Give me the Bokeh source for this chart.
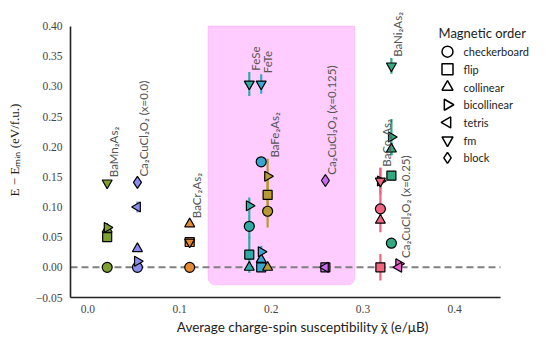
import math
from bokeh.plotting import figure
from bokeh.models import (ColumnDataSource, BoxAnnotation, FixedTicker, LabelSet,
                          Label, Range1d)
from bokeh.core.properties import value
from bokeh.embed import file_html
from bokeh.resources import INLINE

nan = float("nan")

# ---------------- data ----------------
compounds = ["BaMn₂As₂", "Ca₂CuCl₂O₂ (x=0.0)", "BaCr₂As₂", "FeSe", "FeTe",
             "BaFe₂As₂", "Ca₂CuCl₂O₂ (x=0.125)", "BaCo₂As₂", "BaNi₂As₂",
             "Ca₂CuCl₂O₂ (x=0.25)"]
chi_bar = [0.021, 0.054, 0.111, 0.176, 0.189, 0.196, 0.259, 0.319, 0.331, 0.339]
colors = ["#7fa030", "#8a8cf0", "#e38a35", "#30aaa6", "#38a6d0", "#b79a30",
          "#c66cec", "#f2657f", "#30aa80", "#ee5cce"]

orders = ["checkerboard", "flip", "collinear", "bicollinear", "tetris", "fm", "block"]

e_checkerboard = [0.000, 0.000, 0.000, 0.068, 0.175, 0.093, nan, 0.097, 0.040, nan]
e_flip         = [0.050, nan,   0.042, 0.021, 0.000, 0.120, 0.000, 0.000, 0.152, nan]
e_collinear    = [0.063, 0.031, 0.072, 0.000, 0.013, 0.000, nan, 0.078, 0.196, nan]
e_bicollinear  = [0.066, 0.010, nan,   0.102, 0.026, 0.151, nan, 0.143, 0.216, 0.006]
e_tetris       = [nan,   0.100, nan,   nan,   nan,   nan,   0.000, nan, nan, 0.000]
e_fm           = [0.140, nan,   0.042, 0.304, 0.304, nan,   nan, 0.143, 0.334, nan]
e_block        = [nan,   0.141, nan,   nan,   nan,   nan,   0.144, nan, nan, nan]

err_checkerboard = [0, 0, 0, 0.020, 0, 0.027, 0, 0.025, 0, 0]
err_flip         = [0, 0, 0, 0.030, 0, 0.029, 0, 0.022, 0, 0]
err_collinear    = [0, 0, 0, 0, 0.015, 0, 0, 0.020, 0.010, 0]
err_bicollinear  = [0, 0, 0, 0.014, 0.010, 0.029, 0, 0.022, 0.030, 0]
err_tetris       = [0, 0.009, 0, 0, 0, 0, 0, 0, 0, 0]
err_fm           = [0, 0, 0, 0.020, 0.016, 0, 0, 0.022, 0.013, 0]
err_block        = [0, 0, 0, 0, 0, 0, 0, 0, 0, 0]

x_ticks = [0.0, 0.1, 0.2, 0.3, 0.4]
x_tick_labels = ["0.0", "0.1", "0.2", "0.3", "0.4"]
y_ticks = [-0.05, 0.0, 0.05, 0.10, 0.15, 0.20, 0.25, 0.30, 0.35, 0.40]
y_tick_labels = ["−0.05", "0.00", "0.05", "0.10", "0.15", "0.20", "0.25", "0.30", "0.35", "0.40"]

x_lo, x_hi = -0.019, 0.45
y_lo, y_hi = -0.05, 0.40
region_left, region_right, region_bottom = 0.131, 0.291, -0.029

# ---------------- layout / styling ----------------
W, H = 534, 337
B_LEFT, B_RIGHT, B_TOP, B_BOTTOM = 70, 0, 2, 35
AX_RIGHT_PX, AX_TOP_PX = 500, 26          # where the drawn axes end
FW, FH = W - B_LEFT - B_RIGHT, H - B_TOP - B_BOTTOM
x_scale = (AX_RIGHT_PX - B_LEFT) / (x_hi - x_lo)
y_scale = (H - B_BOTTOM - AX_TOP_PX) / (y_hi - y_lo)
x_end = x_hi + (W - B_RIGHT - AX_RIGHT_PX) / x_scale
y_end = y_hi + (AX_TOP_PX - B_TOP) / y_scale

energies = [e_checkerboard, e_flip, e_collinear, e_bicollinear, e_tetris, e_fm, e_block]
errors = [err_checkerboard, err_flip, err_collinear, err_bicollinear, err_tetris, err_fm, err_block]
marker_specs = [("circle", 0.0), ("square", 0.0), ("triangle", 0.0),
                ("triangle", -math.pi / 2), ("triangle", math.pi / 2),
                ("inverted_triangle", 0.0), ("diamond", 0.0)]
marker_sizes = [10, 9, 10, 10, 10, 10, 12]

p = figure(width=W, height=H, output_backend="svg", toolbar_location=None,
           x_range=Range1d(x_lo, x_end), y_range=Range1d(y_lo, y_end),
           min_border_left=B_LEFT, min_border_right=B_RIGHT,
           min_border_top=B_TOP, min_border_bottom=B_BOTTOM)
p.extra_x_ranges = {"px": Range1d(0, FW)}
p.extra_y_ranges = {"py": Range1d(0, FH)}
p.outline_line_color = None
p.xgrid.visible = False
p.ygrid.visible = False
p.background_fill_color = "white"

# highlighted region
box = BoxAnnotation(left=region_left, right=region_right, bottom=region_bottom, top=y_hi,
                    fill_color="#ffccff", fill_alpha=1.0, line_color="#ff80ff",
                    line_width=1, border_radius=(0, 0, 7, 7), level="underlay")
p.add_layout(box)

# zero reference line
p.line(x=[x_lo, x_hi], y=[0.0, 0.0], line_color="#808080", line_width=2, line_dash="7 4")

# error bars
sx, sy0, sy1, sc = [], [], [], []
for ev, erv in zip(energies, errors):
    for i, (e, er) in enumerate(zip(ev, erv)):
        if not math.isnan(e) and er > 0:
            sx.append(chi_bar[i]); sy0.append(e - er); sy1.append(e + er); sc.append(colors[i])
p.segment(x0="x", y0="y0", x1="x", y1="y1", color="c", line_width=2.2,
          source=ColumnDataSource(dict(x=sx, y0=sy0, y1=sy1, c=sc)))

# markers
for ev, (m, ang), sz in zip(energies, marker_specs, marker_sizes):
    xs, ys, cs = [], [], []
    for i, e in enumerate(ev):
        if not math.isnan(e):
            xs.append(chi_bar[i]); ys.append(e); cs.append(colors[i])
    p.scatter(x="x", y="y", source=ColumnDataSource(dict(x=xs, y=ys, c=cs)),
              marker=m, angle=ang, size=sz, fill_color="c", line_color="black",
              line_width=1.2)

# compound labels (placed above the highest marker / bar of each compound)
label_y = []
for i in range(len(compounds)):
    top = -1.0
    for ev, erv in zip(energies, errors):
        e = ev[i]
        if not math.isnan(e):
            top = max(top, e + 0.0095, e + erv[i] + 0.002)
    label_y.append(top)
labels = LabelSet(x="x", y="y", text="t", angle=math.pi / 2, text_align="left",
                  text_baseline="top", text_font=value("Lato"),
                  text_font_size=value("11.5px"), text_color="#555555",
                  source=ColumnDataSource(dict(x=chi_bar, y=label_y, t=compounds)))
p.add_layout(labels)

# legend, drawn in frame pixel units (open markers + names)
LEG_MX, LEG_TX, LEG_TITLE_X = 377, 393, 368      # px from frame left
LEG_ROW0, LEG_DY, LEG_TITLE_Y = 50, 18, 31        # px from frame top
for k, (m, ang) in enumerate(marker_specs):
    p.scatter(x=[LEG_MX], y=[FH - LEG_ROW0 - k * LEG_DY], marker=m, angle=ang,
              size=11, fill_color="white", line_color="black", line_width=1.5,
              x_range_name="px", y_range_name="py")
leg_src = ColumnDataSource(dict(x=[LEG_TX] * len(orders),
                                y=[FH - LEG_ROW0 - k * LEG_DY for k in range(len(orders))],
                                t=orders))
p.add_layout(LabelSet(x="x", y="y", text="t", source=leg_src, x_range_name="px",
                      y_range_name="py", text_align="left", text_baseline="middle",
                      text_font=value("Lato"), text_font_size=value("11px"),
                      text_color="#222222"))
p.add_layout(Label(x=LEG_TITLE_X, y=FH - LEG_TITLE_Y, text="Magnetic order",
                   x_range_name="px", y_range_name="py", text_align="left",
                   text_baseline="middle", text_font="Lato", text_font_size="13px",
                   text_color="#222222"))

# axes
p.xaxis.ticker = FixedTicker(ticks=x_ticks)
p.xaxis.major_label_overrides = dict(zip(x_ticks, x_tick_labels))
p.xaxis.bounds = (x_lo, x_hi)
p.yaxis.ticker = FixedTicker(ticks=y_ticks)
p.yaxis.major_label_overrides = dict(zip(y_ticks, y_tick_labels))
p.yaxis.bounds = (y_lo, y_hi)
for ax in (p.xaxis, p.yaxis):
    ax.axis_line_color = "#222222"
    ax.axis_line_width = 1.6
    ax.major_tick_out = 0
    ax.major_tick_in = 0
    ax.minor_tick_out = 0
    ax.minor_tick_in = 0
    ax.major_tick_line_color = None
    ax.minor_tick_line_color = None
    ax.major_label_text_font = "Liberation Serif"
    ax.major_label_text_font_size = "11.5px"
    ax.major_label_text_color = "#444444"
    ax.axis_label_text_font_style = "normal"
    ax.axis_label_text_color = "#222222"
p.xaxis.major_label_standoff = 7
p.yaxis.major_label_standoff = 8
p.xaxis.axis_label = "Average charge-spin susceptibility χ̄ (e/μB)"
p.xaxis.axis_label_text_font = "Lato"
p.xaxis.axis_label_text_font_size = "13.5px"
p.xaxis.axis_label_standoff = 3
p.yaxis.axis_label = "E − Eₘᵢₙ (eV/f.u.)"
p.yaxis.axis_label_text_font = "Liberation Serif"
p.yaxis.axis_label_text_font_size = "13px"
p.yaxis.axis_label_standoff = 11

open("out.html", "w").write(file_html(p, INLINE))
